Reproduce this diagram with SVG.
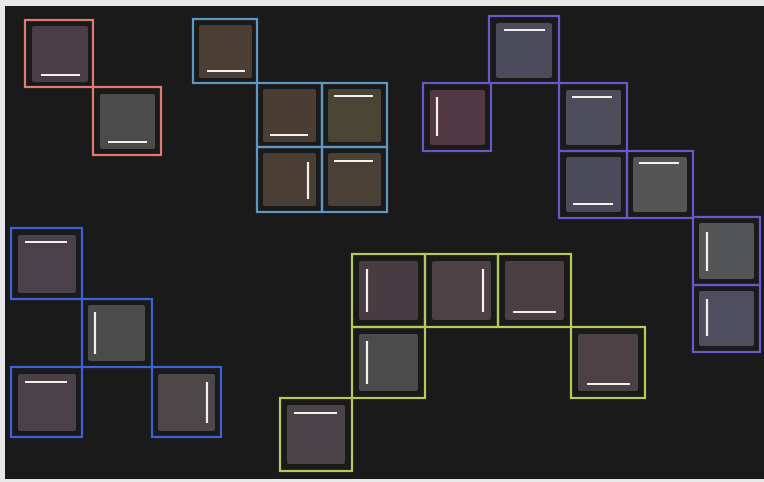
<svg xmlns="http://www.w3.org/2000/svg" width="764" height="482" viewBox="0 0 764 482">
<style>
.o{fill:none;stroke-width:2.2}
.r{stroke:#e27a74}
.t{stroke:#5c98c4}
.p{stroke:#6a58c8}
.b{stroke:#3d62d6}
.g{stroke:#b9c85e}
.f{stroke:none}
.l{stroke:#f2f0ea;stroke-width:2.2;stroke-linecap:butt}
</style>
<rect width="764" height="482" fill="#e8e8e8"/>
<rect x="5" y="6" width="759" height="473" fill="#1a1a1a"/>

<g id="red-group">
<g id="r1"><rect class="f" x="32" y="26" width="56" height="56" rx="2" fill="#4a3d45"/><line class="l" x1="41" y1="75" x2="80" y2="75"/></g>
<g id="r2"><rect class="f" x="100" y="94" width="55" height="55" rx="2" fill="#4b4b4c"/><line class="l" x1="108" y1="142" x2="147" y2="142"/></g>
<rect class="o r" x="25" y="20" width="68" height="67"/>
<rect class="o r" x="93" y="87" width="68" height="68"/>
</g>

<g id="teal-group">
<g id="t1"><rect class="f" x="199" y="25" width="53" height="53" rx="2" fill="#4b3f35"/><line class="l" x1="207" y1="71" x2="245" y2="71"/></g>
<g id="t2"><rect class="f" x="263" y="89" width="53" height="53" rx="2" fill="#4a3d34"/><line class="l" x1="270" y1="135" x2="308" y2="135"/></g>
<g id="t3"><rect class="f" x="328" y="89" width="53" height="53" rx="2" fill="#4a4434"/><line class="l" x1="334" y1="96" x2="373" y2="96"/></g>
<g id="t4"><rect class="f" x="263" y="153" width="53" height="53" rx="2" fill="#4a3e35"/><line class="l" x1="308" y1="162" x2="308" y2="199"/></g>
<g id="t5"><rect class="f" x="328" y="153" width="53" height="53" rx="2" fill="#4b4035"/><line class="l" x1="334" y1="161" x2="373" y2="161"/></g>
<rect class="o t" x="193" y="19" width="64" height="64"/>
<rect class="o t" x="257" y="83" width="65" height="64"/>
<rect class="o t" x="322" y="83" width="65" height="64"/>
<rect class="o t" x="257" y="147" width="65" height="65"/>
<rect class="o t" x="322" y="147" width="65" height="65"/>
</g>

<g id="purple-group">
<g id="p1"><rect class="f" x="496" y="23" width="56" height="55" rx="2" fill="#4b4b5b"/><line class="l" x1="504" y1="30" x2="545" y2="30"/></g>
<g id="p2"><rect class="f" x="430" y="90" width="55" height="55" rx="2" fill="#513843"/><line class="l" x1="437" y1="97" x2="437" y2="136"/></g>
<g id="p3"><rect class="f" x="566" y="90" width="55" height="55" rx="2" fill="#4d4d5b"/><line class="l" x1="572" y1="97" x2="612" y2="97"/></g>
<g id="p4"><rect class="f" x="566" y="157" width="55" height="55" rx="2" fill="#4a4a5a"/><line class="l" x1="573" y1="204" x2="613" y2="204"/></g>
<g id="p5"><rect class="f" x="633" y="157" width="54" height="55" rx="2" fill="#555556"/><line class="l" x1="639" y1="163" x2="679" y2="163"/></g>
<g id="p6"><rect class="f" x="699" y="223" width="55" height="56" rx="2" fill="#545556"/><line class="l" x1="707" y1="232" x2="707" y2="271"/></g>
<g id="p7"><rect class="f" x="699" y="291" width="55" height="55" rx="2" fill="#4e4e60"/><line class="l" x1="707" y1="299" x2="707" y2="336"/></g>
<rect class="o p" x="489" y="16" width="70" height="67"/>
<rect class="o p" x="423" y="83" width="68" height="68"/>
<rect class="o p" x="559" y="83" width="68" height="68"/>
<rect class="o p" x="559" y="151" width="68" height="67"/>
<rect class="o p" x="627" y="151" width="66" height="67"/>
<rect class="o p" x="693" y="217" width="67" height="68"/>
<rect class="o p" x="693" y="285" width="67" height="67"/>
</g>

<g id="blue-group">
<g id="b1"><rect class="f" x="18" y="235" width="58" height="58" rx="2" fill="#4a4049"/><line class="l" x1="25" y1="242" x2="67" y2="242"/></g>
<g id="b2"><rect class="f" x="88" y="305" width="57" height="56" rx="2" fill="#4c4b4c"/><line class="l" x1="95" y1="312" x2="95" y2="354"/></g>
<g id="b3"><rect class="f" x="18" y="374" width="58" height="57" rx="2" fill="#4a4048"/><line class="l" x1="25" y1="382" x2="67" y2="382"/></g>
<g id="b4"><rect class="f" x="158" y="374" width="57" height="57" rx="2" fill="#4d4749"/><line class="l" x1="207" y1="382" x2="207" y2="423"/></g>
<rect class="o b" x="11" y="228" width="71" height="71"/>
<rect class="o b" x="82" y="299" width="70" height="68"/>
<rect class="o b" x="11" y="367" width="71" height="70"/>
<rect class="o b" x="152" y="367" width="69" height="70"/>
</g>

<g id="green-group">
<g id="g1"><rect class="f" x="359" y="261" width="59" height="59" rx="2" fill="#483b41"/><line class="l" x1="367" y1="269" x2="367" y2="312"/></g>
<g id="g2"><rect class="f" x="432" y="261" width="59" height="59" rx="2" fill="#4c4045"/><line class="l" x1="483" y1="269" x2="483" y2="312"/></g>
<g id="g3"><rect class="f" x="505" y="261" width="59" height="59" rx="2" fill="#4c3f44"/><line class="l" x1="513" y1="312" x2="556" y2="312"/></g>
<g id="g4"><rect class="f" x="359" y="334" width="59" height="57" rx="2" fill="#4b4b4c"/><line class="l" x1="367" y1="341" x2="367" y2="384"/></g>
<g id="g5"><rect class="f" x="578" y="334" width="60" height="57" rx="2" fill="#4c4044"/><line class="l" x1="587" y1="384" x2="630" y2="384"/></g>
<g id="g6"><rect class="f" x="287" y="405" width="58" height="59" rx="2" fill="#4a4449"/><line class="l" x1="294" y1="413" x2="337" y2="413"/></g>
<rect class="o g" x="352" y="254" width="73" height="73"/>
<rect class="o g" x="425" y="254" width="73" height="73"/>
<rect class="o g" x="498" y="254" width="73" height="73"/>
<rect class="o g" x="352" y="327" width="73" height="71"/>
<rect class="o g" x="571" y="327" width="74" height="71"/>
<rect class="o g" x="280" y="398" width="72" height="73"/>
</g>
</svg>
